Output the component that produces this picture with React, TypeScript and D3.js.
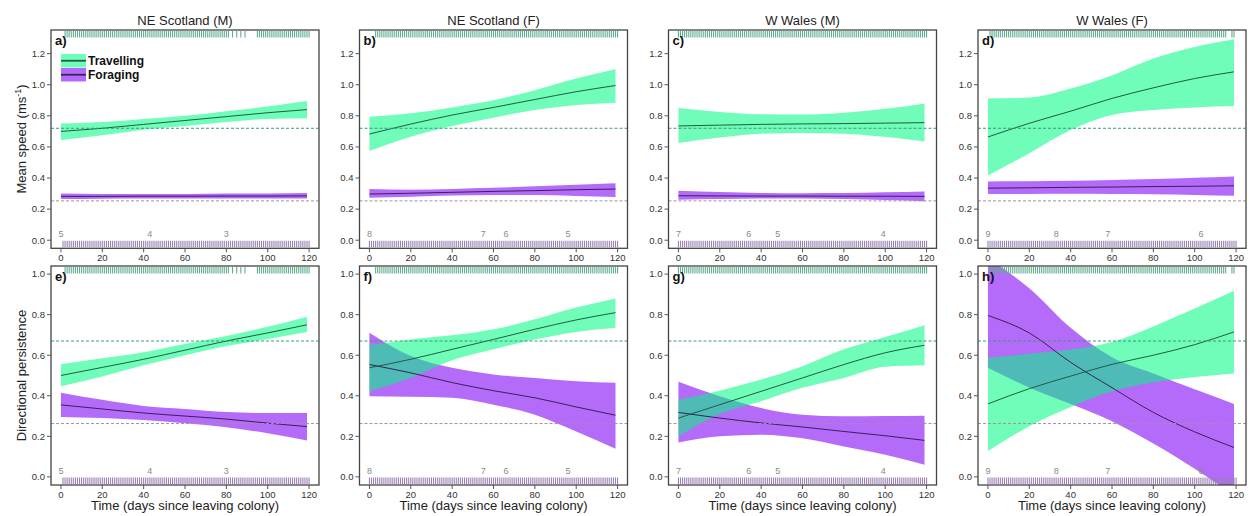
import React from 'react';
import * as d3 from 'd3';

// ---------- data ----------
const DAYS = [0, 20, 40, 60, 80, 100, 119];
const TITLES = ['NE Scotland (M)', 'NE Scotland (F)', 'W Wales (M)', 'W Wales (F)'];
const LETTERS_TOP = ['a)', 'b)', 'c)', 'd)'];
const LETTERS_BOTTOM = ['e)', 'f)', 'g)', 'h)'];
const X_TICKS = [0, 20, 40, 60, 80, 100, 120];
const SPEED_TICKS = [0, 0.2, 0.4, 0.6, 0.8, 1.0, 1.2];
const PERS_TICKS = [0, 0.2, 0.4, 0.6, 0.8, 1.0];
const SPEED_REF = [0.72, 0.253];
const PERS_REF = [0.67, 0.263];

// Mean speed – travelling
const speedTravFit = [
  [0.70, 0.72, 0.745, 0.77, 0.795, 0.82, 0.84],
  [0.683, 0.747, 0.805, 0.854, 0.905, 0.955, 0.995],
  [0.735, 0.74, 0.745, 0.748, 0.75, 0.753, 0.756],
  [0.664, 0.752, 0.83, 0.912, 0.98, 1.04, 1.083],
];
const speedTravLo = [
  [0.645, 0.675, 0.71, 0.735, 0.76, 0.78, 0.785],
  [0.574, 0.666, 0.735, 0.788, 0.837, 0.869, 0.884],
  [0.625, 0.66, 0.685, 0.69, 0.685, 0.665, 0.635],
  [0.416, 0.56, 0.709, 0.805, 0.837, 0.854, 0.863],
];
const speedTravHi = [
  [0.75, 0.76, 0.78, 0.80, 0.83, 0.86, 0.895],
  [0.794, 0.816, 0.854, 0.90, 0.965, 1.04, 1.10],
  [0.85, 0.825, 0.81, 0.808, 0.82, 0.845, 0.88],
  [0.912, 0.918, 0.976, 1.06, 1.168, 1.243, 1.292],
];
// Mean speed – foraging
const speedForFit = [
  [0.282, 0.282, 0.283, 0.283, 0.284, 0.284, 0.285],
  [0.297, 0.302, 0.308, 0.314, 0.319, 0.325, 0.329],
  [0.286, 0.285, 0.284, 0.284, 0.283, 0.283, 0.282],
  [0.335, 0.337, 0.34, 0.342, 0.345, 0.347, 0.35],
];
const speedForLo = [
  [0.265, 0.267, 0.268, 0.268, 0.268, 0.268, 0.268],
  [0.273, 0.28, 0.287, 0.29, 0.29, 0.285, 0.278],
  [0.26, 0.265, 0.268, 0.268, 0.265, 0.258, 0.25],
  [0.297, 0.298, 0.299, 0.298, 0.296, 0.291, 0.286],
];
const speedForHi = [
  [0.30, 0.298, 0.298, 0.298, 0.30, 0.301, 0.303],
  [0.329, 0.325, 0.33, 0.337, 0.347, 0.357, 0.367],
  [0.318, 0.31, 0.304, 0.302, 0.303, 0.308, 0.314],
  [0.378, 0.379, 0.382, 0.387, 0.393, 0.401, 0.41],
];

// Directional persistence – travelling
const persTravFit = [
  [0.50, 0.54, 0.58, 0.625, 0.67, 0.71, 0.75],
  [0.538, 0.58, 0.629, 0.678, 0.728, 0.774, 0.81],
  [0.29, 0.356, 0.422, 0.488, 0.554, 0.612, 0.649],
  [0.36, 0.435, 0.497, 0.555, 0.60, 0.652, 0.715],
];
const persTravLo = [
  [0.447, 0.495, 0.55, 0.60, 0.645, 0.68, 0.715],
  [0.422, 0.488, 0.575, 0.629, 0.678, 0.715, 0.736],
  [0.2, 0.31, 0.373, 0.439, 0.488, 0.543, 0.55],
  [0.128, 0.25, 0.345, 0.422, 0.465, 0.492, 0.51],
];
const persTravHi = [
  [0.555, 0.585, 0.615, 0.655, 0.695, 0.74, 0.79],
  [0.65, 0.678, 0.698, 0.728, 0.777, 0.835, 0.88],
  [0.381, 0.425, 0.48, 0.546, 0.629, 0.69, 0.748],
  [0.588, 0.607, 0.628, 0.665, 0.742, 0.83, 0.918],
];
// Directional persistence – foraging
const persForFit = [
  [0.355, 0.335, 0.315, 0.30, 0.285, 0.265, 0.248],
  [0.554, 0.513, 0.465, 0.425, 0.39, 0.345, 0.304],
  [0.318, 0.29, 0.266, 0.246, 0.224, 0.203, 0.18],
  [0.796, 0.71, 0.565, 0.44, 0.318, 0.222, 0.145],
];
const persForLo = [
  [0.295, 0.29, 0.28, 0.265, 0.245, 0.215, 0.18],
  [0.398, 0.395, 0.39, 0.356, 0.307, 0.224, 0.139],
  [0.17, 0.2, 0.208, 0.19, 0.15, 0.109, 0.06],
  [0.538, 0.44, 0.36, 0.275, 0.165, 0.04, -0.09],
];
const persForHi = [
  [0.415, 0.38, 0.35, 0.335, 0.32, 0.315, 0.315],
  [0.711, 0.596, 0.538, 0.505, 0.488, 0.472, 0.464],
  [0.469, 0.398, 0.34, 0.307, 0.299, 0.30, 0.302],
  [1.08, 0.93, 0.735, 0.59, 0.51, 0.432, 0.36],
];

// rug (days with observations), as [from, to] runs of days
const travRug = [
  [[2, 81], [83, 83], [85, 85], [87, 87], [89, 89], [95, 120]],
  [[3, 120]],
  [[0, 120]],
  [[1, 115], [118, 119]],
];
const forRug = [
  [[1, 120]],
  [[0, 120]],
  [[0, 120]],
  [[0, 120]],
];

// number of individuals remaining
const nDays = [[0, 43, 80], [0, 55, 66, 96], [0, 34, 48, 99], [0, 33, 58, 103]];
const nValues = [[5, 4, 3], [8, 7, 6, 5], [7, 6, 5, 4], [9, 8, 7, 6]];

// ---------- style ----------
const FONT = "'Liberation Sans', Arial, sans-serif";
const GREEN_FILL = 'rgba(0,250,130,0.56)';
const PURPLE_FILL = 'rgba(125,0,245,0.58)';
const GREEN_LINE = '#1f5e40';
const PURPLE_LINE = '#3b1f5c';
const GREEN_RUG = '#5fae8e';
const PURPLE_RUG = '#9a80b4';
const GREEN_DASH = '#3a9a7c';
const PURPLE_DASH = '#a38ea6';

const PANEL_LEFT = [51, 359.5, 668.5, 978];
const PANEL_W = 268;
const ROWS = [
  { top: 30, bottom: 248.3, domain: [-0.052, 1.352] },
  { top: 266, bottom: 485, domain: [-0.04, 1.04] },
];

function expandRuns(runs: number[][]) {
  const out: number[] = [];
  runs.forEach(([a, b]) => {
    for (let d = a; d <= b; d++) out.push(d);
  });
  return out;
}

function Panel(props: any) {
  const { col, row } = props;
  const left = PANEL_LEFT[col];
  const right = left + PANEL_W;
  const R = ROWS[row];
  const x = d3.scaleLinear().domain([-4.8, 124.8]).range([left, right]);
  const y = d3.scaleLinear().domain(R.domain).range([R.bottom, R.top]);
  const isTop = row === 0;
  const tFit = isTop ? speedTravFit[col] : persTravFit[col];
  const tLo = isTop ? speedTravLo[col] : persTravLo[col];
  const tHi = isTop ? speedTravHi[col] : persTravHi[col];
  const fFit = isTop ? speedForFit[col] : persForFit[col];
  const fLo = isTop ? speedForLo[col] : persForLo[col];
  const fHi = isTop ? speedForHi[col] : persForHi[col];
  const ticks = isTop ? SPEED_TICKS : PERS_TICKS;
  const refs = isTop ? SPEED_REF : PERS_REF;

  const area = d3
    .area<number>()
    .x((_, i) => x(DAYS[i]))
    .curve(d3.curveMonotoneX);
  const line = d3
    .line<number>()
    .x((_, i) => x(DAYS[i]))
    .y((v) => y(v))
    .curve(d3.curveMonotoneX);
  const band = (lo: number[], hi: number[]) =>
    area.y0((_, i) => y(lo[i])).y1((_, i) => y(hi[i]))(lo) || '';

  const clipId = `clip-${row}-${col}`;
  const tRug = expandRuns(travRug[col]);
  const fRug = expandRuns(forRug[col]);
  const letter = isTop ? LETTERS_TOP[col] : LETTERS_BOTTOM[col];
  const cx = (left + right) / 2;

  return (
    <g>
      <defs>
        <clipPath id={clipId}>
          <rect x={left} y={R.top} width={PANEL_W} height={R.bottom - R.top} />
        </clipPath>
      </defs>
      <g clipPath={`url(#${clipId})`}>
        <path d={band(fLo, fHi)} fill={PURPLE_FILL} />
        <path d={band(tLo, tHi)} fill={GREEN_FILL} />
        <path d={line(fFit) || ''} fill="none" stroke={PURPLE_LINE} strokeWidth={1} />
        <path d={line(tFit) || ''} fill="none" stroke={GREEN_LINE} strokeWidth={1} />
        <line x1={left} x2={right} y1={y(refs[0])} y2={y(refs[0])} stroke={GREEN_DASH} strokeWidth={1} strokeDasharray="3,2" />
        <line x1={left} x2={right} y1={y(refs[1])} y2={y(refs[1])} stroke={PURPLE_DASH} strokeWidth={1} strokeDasharray="3,2" />
        {tRug.map((d) => (
          <line key={'t' + d} x1={x(d)} x2={x(d)} y1={R.top + 1} y2={R.top + 7.5} stroke={GREEN_RUG} strokeWidth={1.1} />
        ))}
        {fRug.map((d) => (
          <line key={'f' + d} x1={x(d)} x2={x(d)} y1={R.bottom - 1} y2={R.bottom - 7.5} stroke={PURPLE_RUG} strokeWidth={1.1} />
        ))}
      </g>
      {nDays[col].map((d, i) => (
        <text key={'n' + i} x={x(d)} y={y(0) - 3} fontSize={9} fill="#8a8a8a" textAnchor="middle" fontFamily={FONT}>
          {nValues[col][i]}
        </text>
      ))}
      <rect x={left} y={R.top} width={PANEL_W} height={R.bottom - R.top} fill="none" stroke="#444" strokeWidth={1.3} />
      {ticks.map((t) => (
        <g key={'y' + t}>
          <line x1={left - 4} x2={left} y1={y(t)} y2={y(t)} stroke="#555" />
          <text x={left - 6} y={y(t)} dy="0.35em" fontSize={9.5} fill="#333" textAnchor="end" fontFamily={FONT}>
            {t.toFixed(1)}
          </text>
        </g>
      ))}
      {X_TICKS.map((t) => (
        <g key={'x' + t}>
          <line x1={x(t)} x2={x(t)} y1={R.bottom} y2={R.bottom + 4} stroke="#555" />
          <text x={x(t)} y={R.bottom + 12.5} fontSize={9.5} fill="#333" textAnchor="middle" fontFamily={FONT}>
            {t}
          </text>
        </g>
      ))}
      <text x={left + 4} y={R.top + 15} fontSize={13} fontWeight="bold" fill="#111" fontFamily={FONT}>
        {letter}
      </text>
      {isTop ? (
        <text x={cx} y={R.top - 5.5} fontSize={13} fill="#222" textAnchor="middle" fontFamily={FONT}>
          {TITLES[col]}
        </text>
      ) : (
        <text x={cx} y={509.5} fontSize={13} fill="#222" textAnchor="middle" fontFamily={FONT}>
          Time (days since leaving colony)
        </text>
      )}
    </g>
  );
}

function Legend() {
  const x0 = 61;
  const items = [
    { label: 'Travelling', fill: GREEN_FILL, line: GREEN_LINE, y: 54 },
    { label: 'Foraging', fill: PURPLE_FILL, line: PURPLE_LINE, y: 68 },
  ];
  return (
    <g>
      {items.map((it) => (
        <g key={it.label}>
          <rect x={x0} y={it.y} width={25} height={13.5} fill={it.fill} />
          <line x1={x0} x2={x0 + 25} y1={it.y + 6.75} y2={it.y + 6.75} stroke={it.line} strokeWidth={1.8} />
          <text x={x0 + 27} y={it.y + 11} fontSize={12} fontWeight="bold" fill="#111" fontFamily={FONT}>
            {it.label}
          </text>
        </g>
      ))}
    </g>
  );
}

export default function App() {
  return (
    <svg width={1254} height={516} style={{ position: 'absolute', left: 0, top: 0, background: '#fff' }}>
      <rect x={0} y={0} width={1254} height={516} fill="#fff" />
      {[0, 1].map((row) => [0, 1, 2, 3].map((col) => <Panel key={`${row}-${col}`} row={row} col={col} />))}
      <Legend />
      <text transform="translate(26,139) rotate(-90)" fontSize={13} fill="#222" textAnchor="middle" fontFamily={FONT}>
        Mean speed (ms
        <tspan fontSize={9} dy={-5}>-1</tspan>
        <tspan dy={5}>)</tspan>
      </text>
      <text transform="translate(26,375.5) rotate(-90)" fontSize={13} fill="#222" textAnchor="middle" fontFamily={FONT}>
        Directional persistence
      </text>
    </svg>
  );
}
